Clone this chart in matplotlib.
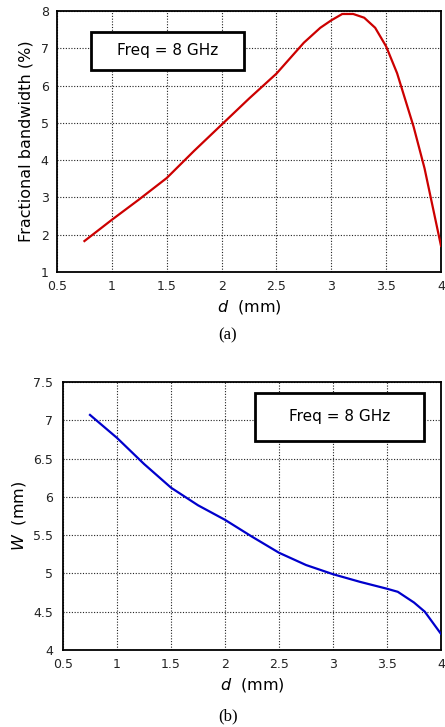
import matplotlib
matplotlib.use('Agg')
import matplotlib.pyplot as plt
from matplotlib.patches import Rectangle
from matplotlib.ticker import FormatStrFormatter

# Fractional bandwidth vs d (a)
d_a = [0.75, 1.0, 1.25, 1.5, 1.75, 2.0, 2.25, 2.5, 2.75, 2.9, 3.0, 3.1, 3.2, 3.3, 3.4, 3.5, 3.6, 3.75, 3.85, 4.0]
fbw = [1.83, 2.4, 2.95, 3.52, 4.25, 4.95, 5.65, 6.32, 7.15, 7.55, 7.75, 7.92, 7.92, 7.82, 7.55, 7.05, 6.33, 4.9, 3.78, 1.7]

# W vs d (b)
d_b = [0.75, 1.0, 1.25, 1.5, 1.75, 2.0, 2.25, 2.5, 2.75, 3.0, 3.25, 3.5, 3.6, 3.75, 3.85, 4.0]
w = [7.07, 6.77, 6.43, 6.12, 5.89, 5.70, 5.48, 5.27, 5.11, 4.99, 4.89, 4.80, 4.76, 4.62, 4.50, 4.21]

xticks = [0.5, 1, 1.5, 2, 2.5, 3, 3.5, 4]

plt.rcParams['font.family'] = ['DejaVu Sans']
plt.rcParams['mathtext.fontset'] = 'dejavusans'

W_px, H_px = 445, 727
fig = plt.figure(figsize=(W_px / 100, H_px / 100), dpi=100)

def px_axes(left, top, right, bottom):
    return fig.add_axes([left / W_px, 1 - bottom / H_px, (right - left) / W_px, (bottom - top) / H_px])

def style(ax, ypad):
    ax.grid(True, color='#222222', linestyle=(0, (1, 1.5)), linewidth=0.8)
    ax.tick_params(direction='in', length=0, labelsize=9, labelcolor='#222222')
    ax.tick_params(axis='x', pad=6)
    ax.tick_params(axis='y', pad=ypad)
    for s in ax.spines.values():
        s.set_linewidth(1.3)
    ax.set_xticks(xticks)
    ax.xaxis.set_major_formatter(FormatStrFormatter('%g'))
    ax.yaxis.set_major_formatter(FormatStrFormatter('%g'))

def freq_box(ax, x0, y0, x1, y1):
    ax.add_patch(Rectangle((x0, y0), x1 - x0, y1 - y0, transform=ax.transAxes,
                           facecolor='white', edgecolor='black', linewidth=2, zorder=5))
    ax.text((x0 + x1) / 2, (y0 + y1) / 2, 'Freq = 8 GHz', transform=ax.transAxes,
            ha='center', va='center', fontsize=11, zorder=6)

# (a)
ax1 = px_axes(57, 11, 441, 272)
ax1.plot(d_a, fbw, color='#cc0000', linewidth=1.6, zorder=4)
ax1.set_xlim(0.5, 4)
ax1.set_ylim(1, 8)
style(ax1, 6)
ax1.set_xlabel('$d$  (mm)', fontsize=11.5, labelpad=3)
ax1.set_ylabel('Fractional bandwidth (%)', fontsize=11.5, labelpad=5)
freq_box(ax1, 0.089, 0.774, 0.487, 0.92)
fig.text(228 / W_px, 1 - 335 / H_px, '(a)', ha='center', va='center',
         fontsize=12, family='Liberation Serif')

# (b)
ax2 = px_axes(63, 382, 441, 650)
ax2.plot(d_b, w, color='#0000cc', linewidth=1.6, zorder=4)
ax2.set_xlim(0.5, 4)
ax2.set_ylim(4, 7.5)
ax2.set_yticks([4, 4.5, 5, 5.5, 6, 6.5, 7, 7.5])
style(ax2, 7)
ax2.set_xlabel('$d$  (mm)', fontsize=11.5, labelpad=3)
ax2.set_ylabel('$W$  (mm)', fontsize=11.5, labelpad=4)
freq_box(ax2, 0.508, 0.78, 0.955, 0.959)
fig.text(228 / W_px, 1 - 716 / H_px, '(b)', ha='center', va='center',
         fontsize=12, family='Liberation Serif')

fig.savefig('out.png', dpi=100)
